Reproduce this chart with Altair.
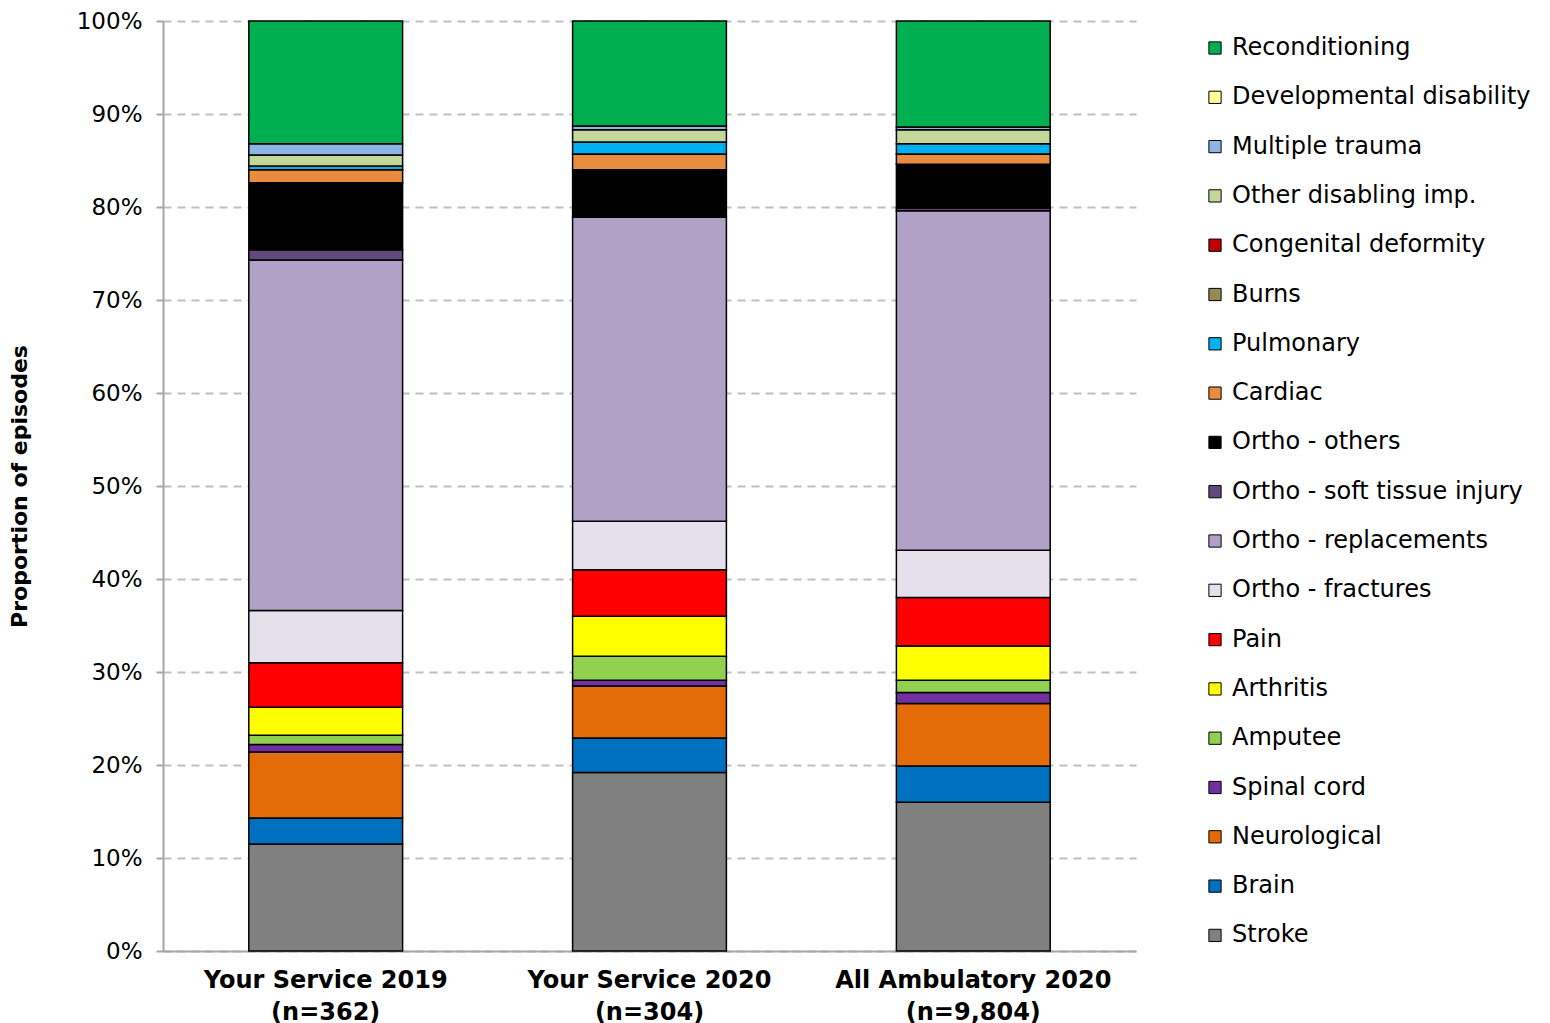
import altair as alt
import pandas as pd

categories = ["Stroke", "Brain", "Neurological", "Spinal cord", "Amputee", "Arthritis", "Pain",
              "Ortho - fractures", "Ortho - replacements", "Ortho - soft tissue injury",
              "Ortho - others", "Cardiac", "Pulmonary", "Burns", "Congenital deformity",
              "Other disabling imp.", "Multiple trauma", "Developmental disability",
              "Reconditioning"]
colors = ["#808080", "#0070C0", "#E36C09", "#7030A0", "#92D050", "#FFFF00", "#FF0000",
          "#E6E0EC", "#B2A1C7", "#604A7B", "#000000", "#E98C3F", "#00B0F0", "#948A54",
          "#C00000", "#C4D79B", "#8DB4E2", "#FFFF99", "#00B050"]
groups = ["Your Service 2019|(n=362)", "Your Service 2020|(n=304)", "All Ambulatory 2020|(n=9,804)"]

service_2019 = [11.5, 2.8, 7.1, 0.8, 1.0, 3.0, 4.8, 5.6, 37.7, 1.1, 7.2, 1.4, 0.4, 0.0, 0.0, 1.2, 1.2, 0.0, 13.2]
service_2020 = [19.2, 3.7, 5.6, 0.6, 2.6, 4.3, 5.0, 5.2, 32.7, 0.0, 5.1, 1.7, 1.3, 0.0, 0.0, 1.3, 0.4, 0.0, 11.3]
ambulatory_2020 = [16.0, 3.9, 6.7, 1.2, 1.3, 3.7, 5.2, 5.1, 36.5, 0.3, 4.7, 1.1, 1.1, 0.0, 0.0, 1.5, 0.3, 0.0, 11.4]

rows = []
for g, vals in zip(groups, [service_2019, service_2020, ambulatory_2020]):
    for i, (c, v) in enumerate(zip(categories, vals)):
        if v > 0:
            rows.append({"group": g, "category": c, "value": v / 100.0, "order": i})
df = pd.DataFrame(rows)

FONT = "DejaVu Sans"

chart = alt.Chart(df).mark_bar(stroke="black", strokeWidth=1.5).encode(
    x=alt.X("group:N", sort=groups,
            scale=alt.Scale(paddingInner=0.525, paddingOuter=0.265),
            axis=alt.Axis(title=None, labelAngle=0, labelExpr="split(datum.label, '|')",
                          labelFont=FONT, labelFontSize=24, labelFontWeight="bold",
                          labelColor="black", labelLineHeight=32, labelPadding=17,
                          labelLimit=500,
                          ticks=False, domainColor="#A6A6A6", domainWidth=2, grid=False)),
    y=alt.Y("value:Q", stack="zero",
            scale=alt.Scale(domain=[0, 1], nice=False),
            axis=alt.Axis(title="Proportion of episodes", format=".0%",
                          values=[i / 10 for i in range(11)],
                          labelFont=FONT, labelFontSize=23, labelColor="black",
                          labelPadding=14, tickSize=7, tickColor="#A6A6A6", tickWidth=2,
                          domainColor="#A6A6A6", domainWidth=2,
                          grid=True, gridColor="#C0C0C0", gridDash=[8, 6], gridWidth=2,
                          titleFont=FONT, titleFontSize=22, titleFontWeight="bold",
                          titleColor="black", titlePadding=45)),
    color=alt.Color("category:N",
                    scale=alt.Scale(domain=categories[::-1], range=colors[::-1]),
                    legend=alt.Legend(title=None, orient="none", legendX=1040, legendY=15,
                                      symbolType="square", symbolSize=150,
                                      symbolStrokeColor="black", symbolStrokeWidth=1,
                                      labelFont=FONT, labelFontSize=24, labelColor="black",
                                      labelOffset=5, rowPadding=25.3, symbolLimit=30,
                                      labelLimit=500)),
    order=alt.Order("order:Q", sort="ascending"),
).properties(
    width=973, height=930, padding={"left": 0, "top": 2, "right": 0, "bottom": 0}
).configure(background="white").configure_view(stroke=None)

chart.save("out.html", embed_options={"renderer": "svg", "actions": False})
